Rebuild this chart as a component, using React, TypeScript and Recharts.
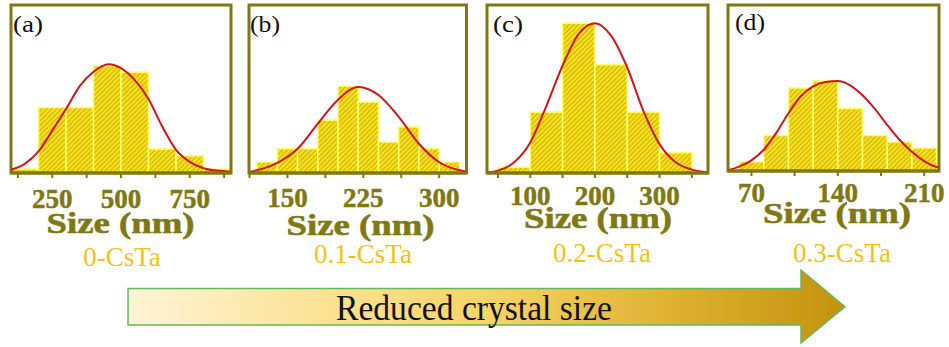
import React from 'react';
import { ComposedChart, XAxis, YAxis, Line, ReferenceArea } from 'recharts';

// ---------- data ----------
// (a) 0-CsTa
const edgesA = [100, 200, 300, 400, 500, 600, 700, 800, 900];
const countsA = [1, 16.4, 16.4, 26.8, 25.2, 6, 4.3, 1];
const fitXA = [100, 150, 200, 250, 300, 350, 400, 455, 500, 550, 600, 650, 700, 750, 800, 850, 900];
const fitYA = [0.8, 2.3, 5.4, 10.6, 16, 21.7, 25.3, 27.2, 26.2, 23.2, 18.5, 11.6, 5.8, 2.8, 1.2, 0.6, 0.3];
const domainA = [100, 900];
const ticksA = [125, 250, 375, 500, 625, 750, 875];
const labelsA = [250, 500, 750];

// (b) 0.1-CsTa
const edgesB = [120, 140, 160, 180, 200, 220, 240, 260, 280, 300, 320];
const countsB = [3.3, 7.2, 7.2, 15.7, 25.8, 21.1, 9.2, 13.7, 7.2, 3.3];
const fitXB = [112, 120, 140, 160, 180, 200, 220, 240, 260, 280, 300, 320, 327];
const fitYB = [0.3, 0.8, 3.0, 7.2, 14.7, 21.8, 25.6, 23.2, 16.7, 8.7, 3.2, 0.8, 0.4];
const domainB = [112, 327];
const ticksB = [112.5, 150, 187.5, 225, 262.5, 300];
const labelsB = [150, 225, 300];

// (c) 0.2-CsTa
const edgesC = [50, 100, 150, 200, 250, 300, 350];
const countsC = [1.7, 18.1, 44.6, 32.2, 18.1, 6.0];
const fitXC = [33, 50, 75, 100, 125, 150, 175, 200, 225, 250, 275, 300, 325, 350, 375];
const fitYC = [0.2, 0.7, 3.2, 9.1, 20, 32, 41.4, 44.6, 40.9, 31.4, 18.5, 8.6, 3.2, 1, 0.2];
const domainC = [33, 375];
const ticksC = [50, 100, 150, 200, 250, 300, 350];
const labelsC = [100, 200, 300];

// (d) 0.3-CsTa
const edgesD = [60, 80, 100, 120, 140, 160, 180, 200, 220];
const countsD = [2.8, 10.7, 25, 27.1, 18.8, 10.7, 8.7, 6.9];
const fitXD = [51, 60, 70, 80, 90, 100, 110, 120, 130, 140, 150, 160, 170, 180, 190, 200, 210, 220, 222];
const fitYD = [0.2, 1.3, 3.2, 6.4, 11.4, 17.4, 22.5, 25.5, 26.8, 27.1, 25.8, 22.8, 18.7, 13.9, 9.4, 5.8, 3.0, 1.2, 1.0];
const domainD = [51, 222];
const ticksD = [70, 105, 140, 175, 210];
const labelsD = [70, 140, 210];

const sampleNames = ['0-CsTa', '0.1-CsTa', '0.2-CsTa', '0.3-CsTa'];
const panelLetters = ['(a)', '(b)', '(c)', '(d)'];
const axisTitle = 'Size (nm)';
const trendText = 'Reduced crystal size';

// ---------- styling ----------
const OLIVE = '#7f7813';
const GOLD = '#f4c214';
const RED = '#d0161c';
const BAR_EDGE = '#ffff6a';
const SERIF = "'Liberation Serif', 'Times New Roman', serif";
const PAD = 10;
const CHART_H = 250;
const PLOT_TOP = 5;

type PanelLayout = {
  edges: number[];
  counts: number[];
  fitX: number[];
  fitY: number[];
  domain: number[];
  ticks: number[];
  labels: number[];
  yMax: number;
  left: number;
  right: number;
  bottom: number;
  tickBase: number;
  titleX: number;
  titleBase: number;
  letterX: number;
  letterBase: number;
  nameX: number;
  nameBase: number;
};

const panels: PanelLayout[] = [
  {
    edges: edgesA, counts: countsA, fitX: fitXA, fitY: fitYA, domain: domainA,
    ticks: ticksA, labels: labelsA, yMax: 42,
    left: 10.5, right: 230.5, bottom: 173, tickBase: 208, titleX: 120, titleBase: 233,
    letterX: 13, letterBase: 32, nameX: 122, nameBase: 266,
  },
  {
    edges: edgesB, counts: countsB, fitX: fitXB, fitY: fitYB, domain: domainB,
    ticks: ticksB, labels: labelsB, yMax: 50,
    left: 248.5, right: 466, bottom: 173, tickBase: 207, titleX: 360, titleBase: 235,
    letterX: 250, letterBase: 32, nameX: 363, nameBase: 263,
  },
  {
    edges: edgesC, counts: countsC, fitX: fitXC, fitY: fitYC, domain: domainC,
    ticks: ticksC, labels: labelsC, yMax: 50,
    left: 487, right: 708, bottom: 173, tickBase: 205, titleX: 598, titleBase: 228,
    letterX: 493, letterBase: 32, nameX: 602, nameBase: 262,
  },
  {
    edges: edgesD, counts: countsD, fitX: fitXD, fitY: fitYD, domain: domainD,
    ticks: ticksD, labels: labelsD, yMax: 50,
    left: 728, right: 939, bottom: 171, tickBase: 202, titleX: 837, titleBase: 223,
    letterX: 735, letterBase: 30, nameX: 842, nameBase: 262,
  },
];

const AxisTitle = (props: any) => (
  <text
    x={props.titleX}
    y={props.titleBase}
    textAnchor="middle"
    fontFamily={SERIF}
    fontWeight="bold"
    fontSize={30}
    fill={OLIVE}
    stroke={OLIVE}
    strokeWidth={0.6}
    textLength={148}
    lengthAdjust="spacingAndGlyphs"
  >
    {axisTitle}
  </text>
);

function HistogramPanel({ p }: { p: PanelLayout }) {
  const chartLeft = p.left - PAD;
  const width = p.right - p.left + 2 * PAD;
  const fit = p.fitX.map((x, i) => ({ x, y: p.fitY[i] }));

  const renderTick = (props: any) => {
    const { x, payload } = props;
    if (!p.labels.includes(payload.value)) return <g />;
    return (
      <text
        x={x}
        y={p.tickBase}
        textAnchor="middle"
        fontFamily={SERIF}
        fontWeight="bold"
        fontSize={27}
        fill={OLIVE}
        stroke={OLIVE}
        strokeWidth={0.5}
      >
        {payload.value}
      </text>
    );
  };

  return (
    <div style={{ position: 'absolute', left: chartLeft, top: 0 }}>
      <ComposedChart
        width={width}
        height={CHART_H}
        margin={{ top: PLOT_TOP, right: PAD, bottom: 0, left: PAD }}
      >
        <XAxis
          type="number"
          dataKey="x"
          domain={p.domain}
          ticks={p.ticks}
          interval={0}
          allowDataOverflow
          height={CHART_H - p.bottom}
          axisLine={{ stroke: OLIVE, strokeWidth: 3 }}
          tickLine={{ stroke: OLIVE, strokeWidth: 2 }}
          tickSize={5}
          tick={renderTick}
          label={<AxisTitle titleX={p.titleX - chartLeft} titleBase={p.titleBase} />}
        />
        <YAxis type="number" domain={[0, p.yMax]} hide allowDataOverflow />
        {p.counts.map((c, i) => (
          <ReferenceArea
            key={`bin-${i}`}
            x1={p.edges[i]}
            x2={p.edges[i + 1]}
            y1={0}
            y2={c}
            ifOverflow="visible"
            fill="url(#hatchFill)"
            fillOpacity={1}
            stroke={BAR_EDGE}
            strokeWidth={1.5}
          />
        ))}
        <ReferenceArea
          x1={p.domain[0]}
          x2={p.domain[1]}
          y1={0}
          y2={p.yMax}
          ifOverflow="visible"
          fill="none"
          stroke={OLIVE}
          strokeWidth={3}
        />
        <Line
          data={fit}
          dataKey="y"
          type="monotone"
          stroke={RED}
          strokeWidth={2}
          dot={false}
          activeDot={false}
          isAnimationActive={false}
        />
      </ComposedChart>
    </div>
  );
}

export default function App() {
  return (
    <div
      style={{
        position: 'absolute',
        left: 0,
        top: 0,
        width: 949,
        height: 347,
        background: '#ffffff',
        overflow: 'hidden',
      }}
    >
      {panels.map((p, i) => (
        <HistogramPanel key={i} p={p} />
      ))}
      <svg
        width={949}
        height={347}
        style={{ position: 'absolute', left: 0, top: 0, pointerEvents: 'none' }}
      >
        <defs>
          <pattern
            id="hatchFill"
            patternUnits="userSpaceOnUse"
            width={3.4}
            height={3.4}
            patternTransform="rotate(45)"
          >
            <rect width={3.4} height={3.4} fill="#f7e31e" />
            <line x1={0.8} y1={0} x2={0.8} y2={3.4} stroke="#c8a70a" strokeWidth={1} />
          </pattern>
          <linearGradient id="trendFill" x1="0" y1="0" x2="1" y2="0">
            <stop offset="0" stopColor="#fff4d6" />
            <stop offset="0.3" stopColor="#fce08e" />
            <stop offset="0.5" stopColor="#f6d466" />
            <stop offset="0.75" stopColor="#e0b232" />
            <stop offset="1" stopColor="#c3930e" />
          </linearGradient>
        </defs>
        {panels.map((p, i) => (
          <g key={i}>
            <text
              x={p.letterX}
              y={p.letterBase}
              fontFamily={SERIF}
              fontSize={23}
              fill="#111"
              textLength={30}
              lengthAdjust="spacingAndGlyphs"
            >
              {panelLetters[i]}
            </text>
            <text
              x={p.nameX}
              y={p.nameBase}
              textAnchor="middle"
              fontFamily={SERIF}
              fontSize={27}
              fill={GOLD}
            >
              {sampleNames[i]}
            </text>
          </g>
        ))}
        <polygon
          points="128,288.5 801,288.5 801,270 845,306.7 801,343 801,325 128,325"
          fill="url(#trendFill)"
          stroke="#5dbb5a"
          strokeWidth={1.5}
        />
        <text
          x={474}
          y={320}
          textAnchor="middle"
          fontFamily={SERIF}
          fontSize={36}
          fill="#111"
          textLength={276}
          lengthAdjust="spacingAndGlyphs"
        >
          {trendText}
        </text>
      </svg>
    </div>
  );
}
